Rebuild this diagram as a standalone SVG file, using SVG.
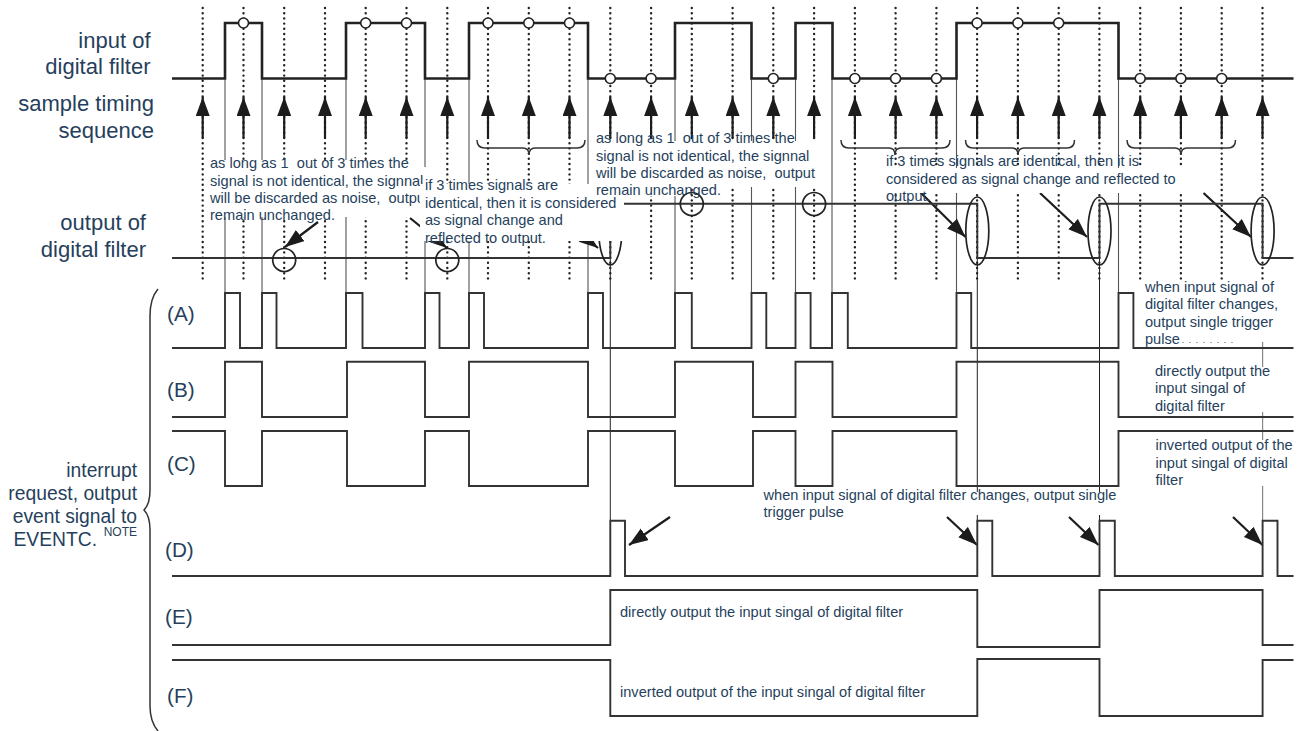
<svg xmlns="http://www.w3.org/2000/svg" width="1299" height="731" viewBox="0 0 1299 731">
<defs>
<style>
text{font-family:"Liberation Sans",Arial,sans-serif;fill:#263f5c;white-space:pre}
.big{font-size:22px;text-anchor:end}
.lab{font-size:20.7px}
.mid{font-size:19.3px;text-anchor:end}
.sm{font-size:14.6px}
.dot{stroke:#222;stroke-width:2.4;stroke-linecap:round;stroke-dasharray:0 5.2;fill:none}
.guide{stroke:#555;stroke-width:1.1;fill:none}
.guideb{stroke:#222;stroke-width:1;fill:none}
.guideg{stroke:#888;stroke-width:1.2;fill:none}
.in{stroke:#222;stroke-width:2.6;fill:none}
.sig{stroke:#333;stroke-width:1.9;fill:none}
.ar{stroke:#1c1c1c;stroke-width:2.2;fill:none;marker-end:url(#tip)}
.head{fill:#1c1c1c}
.c{fill:#fff;stroke:#222;stroke-width:1.6}
.ring{fill:none;stroke:#222;stroke-width:1.7}
.br{fill:none;stroke:#333;stroke-width:1.5}
.wh{fill:#fff;stroke:none}
</style>
<marker id="tip" markerUnits="userSpaceOnUse" markerWidth="21" markerHeight="16" refX="19" refY="7" orient="auto"><path d="M0 0L19 7L0 14Z" class="head"/></marker>
</defs>

<g id="sample-grid">
<path class="dot" d="M202.7 8V280M243.5 8V280M284.2 8V280M325 8V280M365.7 8V280M406.5 8V280M447.3 8V280M488 8V280M528.8 8V280M569.5 8V280M610.3 8V280M651.1 8V280M691.8 8V280M732.6 8V280M773.3 8V280M814.1 8V280M854.9 8V280M895.6 8V280M936.4 8V280M977.1 8V280M1017.9 8V280M1058.7 8V280M1099.4 8V280M1140.2 8V280M1180.9 8V280M1221.7 8V280M1262.5 8V280"/>
</g>

<g id="guides">
<path class="guide" d="M225 79V293M262 79V293M346 79V293M425 79V293M469 79V293M588 79V293M675 79V293M751.5 79V293M795.5 79V293M832 79V293M956.5 79V293M1118.5 79V293"/>
<path class="guideb" d="M610.3 258V520M977.3 258V522M1099.5 204V522"/>
<path class="guideg" d="M1262.6 342V367M1262.6 412V440M1262.6 486V521"/>
</g>

<g id="input-of-digital-filter">
<path class="in" d="M172 78.5H225V23H262V78.5H346V23H425V78.5H469V23H588V78.5H675V23H751.5V78.5H795.5V23H832.5V78.5H956.5V23H1118.5V78.5H1293.5"/>
<circle class="c" cx="243.5" cy="23" r="5"/><circle class="c" cx="365.7" cy="23" r="5"/><circle class="c" cx="406.5" cy="23" r="5"/><circle class="c" cx="488" cy="23" r="5"/><circle class="c" cx="528.8" cy="23" r="5"/><circle class="c" cx="569.5" cy="23" r="5"/>
<circle class="c" cx="610.3" cy="78.5" r="5"/><circle class="c" cx="651.1" cy="78.5" r="5"/><circle class="c" cx="773.3" cy="78.5" r="5"/><circle class="c" cx="854.9" cy="78.5" r="5"/><circle class="c" cx="895.6" cy="78.5" r="5"/><circle class="c" cx="936.4" cy="78.5" r="5"/>
<circle class="c" cx="977.1" cy="23" r="5"/><circle class="c" cx="1017.9" cy="23" r="5"/><circle class="c" cx="1058.7" cy="23" r="5"/>
<circle class="c" cx="1140.2" cy="78.5" r="5"/><circle class="c" cx="1180.9" cy="78.5" r="5"/><circle class="c" cx="1221.7" cy="78.5" r="5"/>
</g>

<g id="connectors">
<path class="ar" d="M202.7 138V97"/><path class="ar" d="M243.5 138V97"/><path class="ar" d="M284.2 138V97"/><path class="ar" d="M325 138V97"/><path class="ar" d="M365.7 138V97"/><path class="ar" d="M406.5 138V97"/><path class="ar" d="M447.3 138V97"/><path class="ar" d="M488 138V97"/><path class="ar" d="M528.8 138V97"/><path class="ar" d="M569.5 138V97"/><path class="ar" d="M610.3 138V97"/><path class="ar" d="M651.1 138V97"/><path class="ar" d="M691.8 138V97"/><path class="ar" d="M732.6 138V97"/><path class="ar" d="M773.3 138V97"/><path class="ar" d="M814.1 138V97"/><path class="ar" d="M854.9 138V97"/><path class="ar" d="M895.6 138V97"/><path class="ar" d="M936.4 138V97"/><path class="ar" d="M977.1 138V97"/><path class="ar" d="M1017.9 138V97"/><path class="ar" d="M1058.7 138V97"/><path class="ar" d="M1099.4 138V97"/><path class="ar" d="M1140.2 138V97"/><path class="ar" d="M1180.9 138V97"/><path class="ar" d="M1221.7 138V97"/><path class="ar" d="M1262.5 138V97"/>
<path class="ar" d="M318 222L285 247"/>
<path class="ar" d="M410 218L447 248"/>
<path class="ar" d="M560 218L598 248"/>
<path class="ar" d="M920 192L965.5 237"/>
<path class="ar" d="M1040 193L1087 237"/>
<path class="ar" d="M1203.5 193L1251 237"/>
<path class="ar" d="M670 517L629 545"/>
<path class="ar" d="M947 517L977 545"/>
<path class="ar" d="M1069 517L1098.5 545"/>
<path class="ar" d="M1233 517L1262.5 545"/>
</g>

<g id="braces">
<path class="br" d="M477 140C477 146 480 148 485 148H523C527 148 529 151 529 155C529 151 531 148 535 148H577C582 148 585 146 585 140"/>
<path class="br" d="M841 140C841 146 844 148 849 148H889C893 148 895 151 895 155C895 151 897 148 901 148H942C947 148 950 146 950 140"/>
<path class="br" d="M965.5 140C965.5 146 968 148 973 148H1012C1016 148 1018 151 1018 155C1018 151 1020 148 1024 148H1067C1072 148 1074.5 146 1074.5 140"/>
<path class="br" d="M1127 140C1127 146 1130 148 1135 148H1175C1179 148 1181 151 1181 155C1181 151 1183 148 1187 148H1228C1233 148 1235.5 146 1235.5 140"/>
<path class="br" d="M158 289C152 296 150 304 150 316V490C150 500 148 506 144 510C148 514 150 520 150 530V706C150 716 152 724 158 731"/>
</g>

<g id="output-of-digital-filter">
<path class="sig" d="M172 258H610.3V203.7H977.3V258H1099.5V203.7H1262.6V258H1293.5"/>
<circle class="ring" cx="284.2" cy="260" r="11.5"/><circle class="ring" cx="447.3" cy="260" r="11.5"/><circle class="ring" cx="691.8" cy="204" r="11.5"/><circle class="ring" cx="814.1" cy="204" r="11.5"/>
<ellipse class="ring" cx="610.3" cy="231" rx="11.5" ry="34"/><ellipse class="ring" cx="977.3" cy="231" rx="11.5" ry="34"/><ellipse class="ring" cx="1099.5" cy="231" rx="11.5" ry="34"/><ellipse class="ring" cx="1262.6" cy="231" rx="11.5" ry="34"/>
</g>

<g id="signal-A"><path class="sig" d="M172 348H225V293H240V348H262V293H276.5V348H346V293H362.5V348H425V293H439.5V348H469V293H484V348H588V293H603V348H675V293H691.8V348H751.5V293H766.3V348H795.5V293H810.6V348H832V293H847.8V348H956.5V293H971.2V348H1118.5V293H1133.4V348H1293.5"/></g>
<g id="signal-B"><path class="sig" d="M172 417H225V361.7H262V417H347V361.700H425V417H469V361.700H588V417H675V361.700H753V417H795.5V361.700H832.5V417H956.5V361.700H1118.5V417H1293.5"/></g>
<g id="signal-C"><path class="sig" d="M172 431H225V486H262V431H347V486H425V431H469V486H588V431H675V486H753V431H795.5V486H832.5V431H956.5V486H1118.5V431H1293.5"/></g>
<g id="signal-D"><path class="sig" d="M172 576H610.3V520.7H625V576H977.3V520.7H992.3V576H1099.5V520.7H1114.8V576H1262.6V520.7H1277.5V576H1293.5"/></g>
<g id="signal-E"><path class="sig" d="M172 645H610.3V590H977.3V647H1099.5V590H1262.6V645H1293.5"/></g>
<g id="signal-F"><path class="sig" d="M172 660H610.3V716H977.3V659H1099.5V716H1262.6V660H1293.5"/></g>

<g id="note-1">
<rect class="wh" x="207" y="160" width="217" height="57"/><rect class="wh" x="423" y="167" width="5" height="18"/>
<text class="sm" x="210" y="168">as long as 1  out of 3 times the</text>
<text class="sm" x="210" y="185.5">signal is not identical, the signnal</text>
<text class="sm" x="210" y="203">will be discarded as noise,  output</text>
<text class="sm" x="210" y="220">remain unchanged.</text>
</g>
<g id="note-2">
<rect class="wh" x="420" y="184" width="204" height="57"/>
<text class="sm" x="425" y="189.5">if 3 times signals are</text>
<text class="sm" x="425" y="208">identical, then it is considered</text>
<text class="sm" x="425" y="225">as signal change and</text>
<text class="sm" x="425" y="243">reflected to output.</text>
</g>
<g id="note-3">
<rect class="wh" x="594" y="141" width="231" height="46"/><rect class="wh" x="594" y="187" width="86" height="9"/>
<text class="sm" x="596" y="143">as long as 1  out of 3 times the</text>
<text class="sm" x="596" y="160.5">signal is not identical, the signnal</text>
<text class="sm" x="596" y="178">will be discarded as noise,  output</text>
<text class="sm" x="596" y="195">remain unchanged.</text>
</g>
<g id="note-4">
<rect class="wh" x="884" y="168" width="306" height="25"/>
<text class="sm" x="886" y="166">if 3 times signals are identical, then it is</text>
<text class="sm" x="886" y="184">considered as signal change and reflected to</text>
<text class="sm" x="886" y="201">output.</text>
</g>
<g id="note-5">
<rect class="wh" x="763" y="492" width="362" height="23"/>
<text class="sm" x="763.5" y="500">when input signal of digital filter changes, output single</text>
<text class="sm" x="763.5" y="517">trigger pulse</text>
</g>
<g id="note-6">
<path stroke="#aaa" stroke-width="1" stroke-dasharray="2 5" fill="none" d="M1182 342.5H1234"/>
<text class="sm" x="1145" y="292">when input signal of</text>
<text class="sm" x="1145" y="309">digital filter changes,</text>
<text class="sm" x="1145" y="326.5">output single trigger</text>
<text class="sm" x="1145" y="344">pulse</text>
</g>
<g id="note-7">
<text class="sm" x="1155" y="376">directly output the</text>
<text class="sm" x="1155" y="393">input singal of</text>
<text class="sm" x="1155" y="411">digital filter</text>
</g>
<g id="note-8">
<text class="sm" x="1155.5" y="450">inverted output of the</text>
<text class="sm" x="1155.5" y="468">input singal of digital</text>
<text class="sm" x="1155.5" y="485">filter</text>
</g>
<text class="sm" x="620" y="617">directly output the input singal of digital filter</text>
<text class="sm" x="620" y="697">inverted output of the input singal of digital filter</text>

<g id="labels">
<text class="big" x="150.5" y="48">input of</text>
<text class="big" x="150.5" y="74">digital filter</text>
<text class="big" x="154" y="111">sample timing</text>
<text class="big" x="154" y="138">sequence</text>
<text class="big" x="146" y="230">output of</text>
<text class="big" x="146" y="257">digital filter</text>
<text class="lab" x="167" y="321">(A)</text>
<text class="lab" x="167" y="397">(B)</text>
<text class="lab" x="167" y="471">(C)</text>
<text class="lab" x="165" y="557">(D)</text>
<text class="lab" x="165" y="624">(E)</text>
<text class="lab" x="167" y="703">(F)</text>
<text class="mid" x="137" y="477">interrupt</text>
<text class="mid" x="137" y="499.5">request, output</text>
<text class="mid" x="137" y="522.5">event signal to</text>
<text class="mid" x="97" y="546">EVENTC.</text>
<text style="font-size:12px;text-anchor:end" x="137" y="536">NOTE</text>
</g>
</svg>
